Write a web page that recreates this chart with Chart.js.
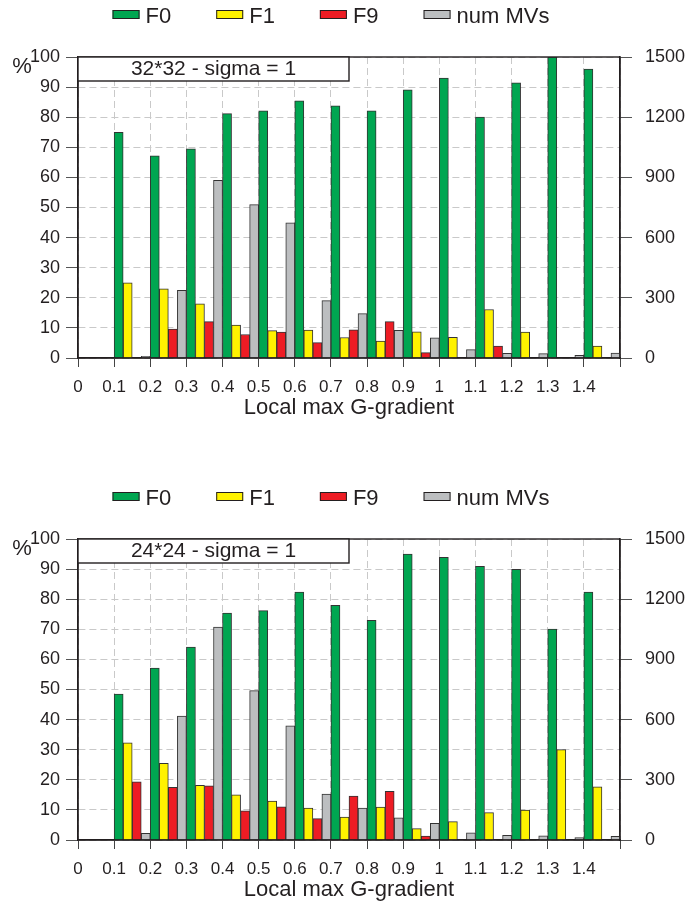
<!DOCTYPE html>
<html>
<head>
<meta charset="utf-8">
<script src="https://cdn.jsdelivr.net/npm/chart.js@4.4.1/dist/chart.umd.min.js"></script>
<style>
  body { margin: 0; background: #fff; }
  canvas { display: block; }
</style>
</head>
<body>
<canvas id="chart32" width="686" height="482"></canvas>
<canvas id="chart24" width="686" height="426"></canvas>
<script>
// bar groups sit in the interval that starts at each label
const categories = ['0', '0.1', '0.2', '0.3', '0.4', '0.5', '0.6', '0.7', '0.8', '0.9', '1', '1.1', '1.2', '1.3', '1.4']
const tickLabels = ['0', '0.1', '0.2', '0.3', '0.4', '0.5', '0.6', '0.7', '0.8', '0.9', '1', '1.1', '1.2', '1.3', '1.4', '']
const seriesNames = ['F0', 'F1', 'F9', 'num MVs']
const panelTitles = ['32*32 - sigma = 1', '24*24 - sigma = 1']
const xTitle = 'Local max G-gradient'

// 32*32 panel, F0/F1/F9 in %, num MVs on the right axis
const f0_32 = [0, 75, 67.2, 69.5, 81.2, 82.1, 85.4, 83.8, 82.1, 89.1, 93.0, 80.0, 91.4, 100, 96.0]
const f1_32 = [0, 25, 23.0, 18.0, 10.9, 9.1, 9.3, 6.8, 5.6, 8.7, 6.9, 16.1, 8.6, 0, 4.0]
const f9_32 = [0, 0, 9.6, 12.1, 7.8, 8.6, 5.1, 9.4, 12.1, 1.8, 0, 4.0, 0, 0, 0]
const mvs_32 = [0, 8, 337, 885, 764, 674, 286, 221, 138, 101, 42, 23, 22, 13, 25]

// 24*24 panel
const f0_24 = [0, 48.5, 57.1, 64.1, 75.4, 76.2, 82.4, 78.0, 73.0, 95.0, 93.9, 90.9, 89.9, 70.1, 82.4]
const f1_24 = [0, 32.3, 25.5, 18.2, 15.0, 12.9, 10.6, 7.6, 10.9, 3.8, 6.1, 9.1, 9.9, 30.0, 17.7]
const f9_24 = [0, 19.3, 17.5, 18.0, 9.7, 11.0, 7.1, 14.6, 16.2, 1.3, 0, 0, 0, 0, 0]
const mvs_24 = [0, 33, 617, 1061, 744, 569, 229, 159, 111, 83, 36, 23, 21, 12, 18]

const fontFamily = "'Liberation Sans', Arial, sans-serif"
const ink = '#231f20'
const colors = ['#00a651', '#fff200', '#ed1c24', '#bcbec0']

Chart.defaults.font.family = fontFamily
Chart.defaults.color = ink

const panelDecor = {
  id: 'panelDecor',
  afterDraw: (chart, args, opts) => {
    const ctx = chart.ctx
    const a = chart.chartArea
    ctx.save()

    // legend row
    ctx.font = '22px ' + fontFamily
    const items = chart.data.datasets.map(d => ({
      label: d.label,
      color: d.backgroundColor,
      w: 27 + 6 + ctx.measureText(d.label).width,
    }))
    const gap = 45
    const total = items.reduce((s, it) => s + it.w, 0) + gap * (items.length - 1)
    let x = (chart.width - 24 - total) / 2
    items.forEach(it => {
      ctx.fillStyle = it.color
      ctx.fillRect(x, 10, 27, 9)
      ctx.strokeStyle = ink
      ctx.lineWidth = 1
      ctx.strokeRect(x + 0.5, 10.5, 26, 8)
      ctx.fillStyle = ink
      ctx.textAlign = 'left'
      ctx.textBaseline = 'alphabetic'
      ctx.fillText(it.label, x + 33, 23)
      x += it.w + gap
    })

    // plot frame
    ctx.lineWidth = 1.4
    ctx.strokeStyle = ink
    ctx.strokeRect(a.left, a.top, a.right - a.left, a.bottom - a.top)

    // title box
    const bw = (a.right - a.left) / 2
    const bh = 24
    ctx.fillStyle = '#fff'
    ctx.fillRect(a.left, a.top, bw, bh)
    ctx.strokeRect(a.left, a.top, bw, bh)
    ctx.font = '21px ' + fontFamily
    ctx.fillStyle = ink
    ctx.textAlign = 'center'
    ctx.textBaseline = 'middle'
    ctx.fillText(opts.title, a.left + bw / 2, a.top + bh / 2)

    // % unit
    ctx.font = '22px ' + fontFamily
    ctx.fillText('%', a.left - 56, a.top + 10)
    ctx.restore()
  },
}

const gridColor = '#c9c9c9'
const tickFont = { size: 18 }

function makeChart(id, title, f0, f1, f9, mvs, bottomPad) {
  const values = [f0, f1, f9, mvs]
  const datasets = seriesNames.map((name, i) => ({
    label: name,
    data: values[i],
    backgroundColor: colors[i],
    borderColor: '#333',
    borderWidth: 1,
    xAxisID: 'xb',
    yAxisID: i === 3 ? 'y1' : 'y',
    barPercentage: 1,
    categoryPercentage: 1,
  }))

  return new Chart(document.getElementById(id), {
    type: 'bar',
    data: { labels: categories, datasets },
    plugins: [panelDecor],
    options: {
      animation: false,
      responsive: false,
      layout: { padding: { top: 57, bottom: bottomPad, left: 0, right: 0 } },
      plugins: {
        legend: { display: false },
        tooltip: { enabled: false },
        panelDecor: { title },
      },
      scales: {
        xb: { type: 'category', offset: true, display: false },
        x: {
          type: 'category',
          labels: tickLabels,
          offset: false,
          position: 'bottom',
          grid: { offset: false, color: gridColor, tickColor: '#444', tickLength: 9 },
          border: { color: ink, width: 1.4, dash: [7, 4] },
          ticks: { font: { size: 17 }, padding: 10, autoSkip: false, maxRotation: 0 },
          title: { display: true, text: xTitle, font: { size: 22 }, padding: { top: 4, bottom: 5 } },
          afterFit: s => { s.height = 68 },
        },
        y: {
          position: 'left',
          min: 0,
          max: 100,
          grid: { color: gridColor, tickColor: '#555', tickLength: 12 },
          border: { color: ink, width: 1.4, dash: [7, 4] },
          ticks: { stepSize: 10, font: tickFont, padding: 6 },
          afterFit: s => { s.width = 78 },
        },
        y1: {
          position: 'right',
          min: 0,
          max: 1500,
          grid: { drawOnChartArea: false, tickColor: '#555', tickLength: 12 },
          border: { color: ink, width: 1.4 },
          ticks: { stepSize: 300, font: tickFont, padding: 13, callback: v => String(v) },
          afterFit: s => { s.width = 66 },
        },
      },
    },
  })
}

makeChart('chart32', panelTitles[0], f0_32, f1_32, f9_32, mvs_32, 56)
makeChart('chart24', panelTitles[1], f0_24, f1_24, f9_24, mvs_24, 0)
</script>
</body>
</html>
